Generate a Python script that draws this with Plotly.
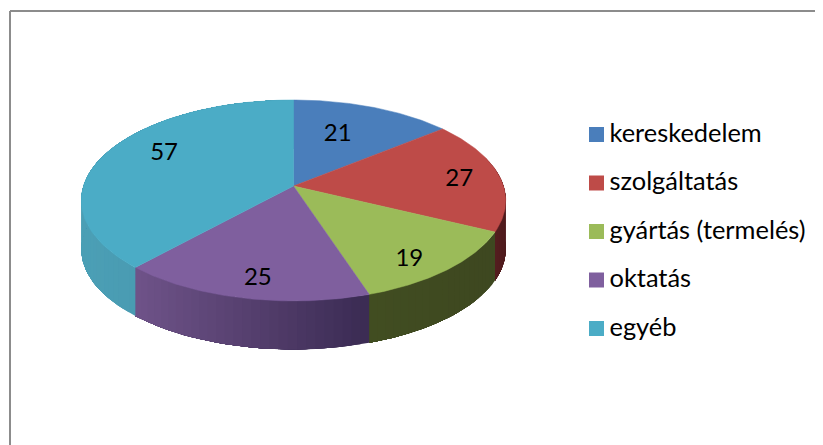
import numpy as np
import plotly.graph_objects as go

categories = ["kereskedelem", "szolgáltatás", "gyártás (termelés)", "oktatás", "egyéb"]
values = [21, 27, 19, 25, 57]

top_colors = ["#4A7EBB", "#BE4B48", "#9BBB59", "#7F5F9E", "#4BACC6"]
wall_left = [(56, 92, 140), (110, 36, 38), (66, 78, 34), (112, 84, 138), (76, 160, 182)]
wall_right = [(50, 84, 130), (80, 28, 30), (62, 72, 32), (60, 44, 84), (68, 144, 170)]

FONT = "Lato"
PAGE_W, PAGE_H, BODY = 823, 445, 8  # the page keeps an 8 px body margin
CX, CY, A, B, K, DEPTH = 293.5, 186, 210, 98.4, 0.144, 48.5


def project(theta, r=1.0):
    """Perspective projection of a pie-plane point (clockwise from 12 o'clock)."""
    u, v = r * np.sin(theta), r * np.cos(theta)
    w = 1 + K * v
    return CX + A * u / w, CY - B * v / w


total = sum(values)
edges = np.cumsum([0] + values) / total * 2 * np.pi
fig = go.Figure()

# side walls: each shaded layer runs to the end of its slice, so no seams show
for i in range(len(values)):
    ths = np.linspace(edges[i], edges[i + 1], values[i] + 4)
    xs_all, _ = project(ths)
    lo, hi = xs_all.min(), xs_all.max()
    a, b = np.array(wall_left[i]), np.array(wall_right[i])
    for k in range(len(ths) - 1):
        if np.cos(ths[k + 1]) > 0.3:
            continue
        seg = ths[k:]
        xs, ys = project(seg)
        g = (xs[0] - lo) / max(1, hi - lo)
        col = "rgb(%d,%d,%d)" % tuple(a + (b - a) * g)
        fig.add_trace(go.Scatter(
            x=np.r_[xs, xs[::-1], xs[0]], y=np.r_[ys, ys[::-1] + DEPTH, ys[0]],
            mode="lines", fill="toself", fillcolor=col,
            line=dict(color=col, width=0), hoverinfo="skip", showlegend=False))

# top faces
for i in range(len(values)):
    ths = np.linspace(edges[i], edges[i + 1], 80)
    xs, ys = project(ths)
    fig.add_trace(go.Scatter(
        x=np.r_[CX, xs, CX], y=np.r_[CY, ys, CY],
        mode="lines", fill="toself", fillcolor=top_colors[i],
        line=dict(color=top_colors[i], width=0.5), hoverinfo="skip", showlegend=False))

# legend, laid out by hand to keep the reference's swatch-to-text spacing
LEG_X, LEG_Y, LEG_STEP = 596.5, 134.5, 48.5
for i, name in enumerate(categories):
    fig.add_trace(go.Scatter(
        x=[LEG_X], y=[LEG_Y + LEG_STEP * i], mode="markers", name=name,
        marker=dict(symbol="square", size=15, color=top_colors[i], line=dict(width=0)),
        hoverinfo="name", showlegend=False))
    fig.add_trace(go.Scatter(
        x=[LEG_X + 13], y=[LEG_Y + 1 + LEG_STEP * i], mode="text", text=[name],
        textfont=dict(family=FONT, size=25.4, color="#000000"),
        textposition="middle right", hoverinfo="skip", showlegend=False))

# value labels at the slice mid-angles
label_r = [0.8] * 5
nudge_x = [-21, 1, -5, 4, 21]
nudge_y = [13, 3, 9, 6, -5]
mids = (edges[:-1] + edges[1:]) / 2
lx, ly = [], []
for i, m in enumerate(mids):
    px, py = project(m, label_r[i])
    lx.append(px + nudge_x[i])
    ly.append(py + nudge_y[i])
fig.add_trace(go.Scatter(
    x=lx, y=ly, mode="text", text=[str(v) for v in values],
    textfont=dict(family=FONT, size=24, color="#000000"),
    textposition="middle center", hoverinfo="skip", showlegend=False))

line = dict(color="#8C8C8C", width=2)
fig.update_layout(
    width=PAGE_W - BODY, height=PAGE_H - BODY, margin=dict(l=0, r=0, t=0, b=0),
    paper_bgcolor="white", plot_bgcolor="white",
    xaxis=dict(range=[BODY, PAGE_W], visible=False, fixedrange=True),
    yaxis=dict(range=[PAGE_H, BODY], visible=False, fixedrange=True),
    showlegend=False,
    shapes=[
        dict(type="line", xref="x", yref="y", x0=10, x1=PAGE_W, y0=11, y1=11, line=line),
        dict(type="line", xref="x", yref="y", x0=10, x1=10, y0=11, y1=PAGE_H, line=line),
    ],
)
fig.write_html("out.html")
